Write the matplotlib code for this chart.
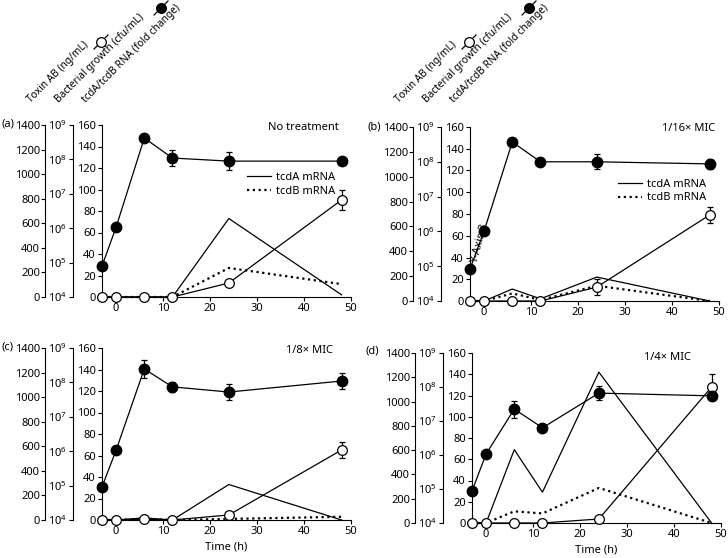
import matplotlib
matplotlib.use("Agg")
import matplotlib.pyplot as plt
from matplotlib.lines import Line2D

plt.rcParams['font.family'] = ['Noto Sans', 'DejaVu Sans']
plt.rcParams['mathtext.fontset'] = 'custom'
plt.rcParams['mathtext.rm'] = 'Noto Sans'
plt.rcParams['mathtext.default'] = 'regular'
plt.rcParams['font.size'] = 8

# sampling times (h)
time_h = [-3, 0, 6, 12, 24, 48]

panel_labels = ['(a)', '(b)', '(c)', '(d)']
panel_titles = ['No treatment', '1/16\u00d7 MIC', '1/8\u00d7 MIC', '1/4\u00d7 MIC']

# bacterial growth, log10 cfu/mL
growth_log = [
    [4.90, 6.03, 8.62, 8.04, 7.95, 7.95],
    [4.92, 6.01, 8.57, 8.00, 8.00, 7.94],
    [4.96, 6.03, 8.39, 7.87, 7.72, 8.04],
    [4.94, 6.03, 7.35, 6.80, 7.82, 7.74],
]
growth_err = [
    [0, 0, 0, 0.22, 0.26, 0],
    [0, 0, 0.10, 0.12, 0.22, 0.15],
    [0, 0, 0.25, 0.15, 0.23, 0.23],
    [0, 0, 0.25, 0.05, 0.20, 0.10],
]

# toxin AB, ng/mL
toxin = [
    [0, 0, 0, 0, 114, 790],
    [0, 0, 0, 0, 112, 692],
    [0, 0, 5, 0, 41, 570],
    [0, 0, 0, 0, 33, 1120],
]
toxin_err = [
    [0, 0, 0, 0, 0, 82],
    [0, 0, 0, 0, 64, 64],
    [0, 0, 0, 0, 0, 65],
    [0, 0, 0, 0, 0, 107],
]

# RNA fold change
tcda = [
    [0, 0, 0, 0, 73, 2],
    [0, 0, 11, 2, 22, 0],
    [0, 0, 2, 0, 33, 0],
    [0, 0, 69, 29, 142, 0],
]
tcdb = [
    [0, 0, 0, 0, 27, 12],
    [0, 0, 7, 1, 14, 0],
    [0, 0, 1, 0, 1, 3],
    [0, 0, 11, 9, 33, 0],
]

W, H = 728, 558
fig = plt.figure(figsize=(W / 100, H / 100), dpi=100)

# plot boxes in pixels: left, top, right, bottom
boxes = [(102, 125, 351, 297), (470, 127, 719, 301),
         (102, 348, 351, 520), (472, 353, 721, 523)]
title_pos = [(0.952, 0.985), (0.984, 0.99), (0.928, 0.985), (0.88, 0.975)]


def style_axis(a, side_offset=None):
    for s in ['top', 'right', 'bottom']:
        a.spines[s].set_visible(False)
    a.spines['left'].set_visible(True)
    a.spines['left'].set_linewidth(0.8)
    if side_offset is not None:
        a.spines['left'].set_position(('axes', side_offset))
    a.yaxis.set_ticks_position('left')
    a.yaxis.set_label_position('left')
    a.tick_params(axis='y', direction='out', length=3, width=0.8, pad=1, labelsize=8)


for i in range(4):
    l, t, r, b = boxes[i]
    ax = fig.add_axes([l / W, (H - b) / H, (r - l) / W, (b - t) / H])
    ax.spines['top'].set_visible(False)
    ax.spines['right'].set_visible(False)
    ax.spines['bottom'].set_linewidth(0.8)
    ax.spines['left'].set_linewidth(0.8)
    ax.set_xlim(-3, 50)
    ax.set_ylim(0, 160)
    ax.set_xticks([0, 10, 20, 30, 40, 50])
    ax.set_yticks(range(0, 161, 20))
    ax.tick_params(direction='out', length=3, width=0.8, pad=1.5, labelsize=8)

    ax.plot(time_h, tcda[i], color='black', lw=0.9, label='tcdA mRNA', clip_on=False)
    ax.plot(time_h, tcdb[i], color='black', lw=1.6, ls=(0, (1, 1.6)), label='tcdB mRNA', clip_on=False)

    tox = ax.twinx()
    style_axis(tox, -0.227)
    tox.set_ylim(0, 1400)
    tox.set_yticks(range(0, 1401, 200))
    tox.errorbar(time_h, toxin[i], yerr=toxin_err[i], color='black', lw=0.9,
                 marker='o', ms=7, mfc='white', mec='black', mew=0.9,
                 capsize=2.5, elinewidth=0.9, capthick=0.9, clip_on=False, zorder=3)

    bac = ax.twinx()
    style_axis(bac, -0.118)
    bac.set_ylim(4, 9)
    bac.set_yticks(range(4, 10))
    bac.set_yticklabels(['$10^{%d}$' % k for k in range(4, 10)])
    bac.errorbar(time_h, growth_log[i], yerr=growth_err[i], color='black', lw=0.9,
                 marker='o', ms=7.5, mfc='black', mec='black',
                 capsize=2.5, elinewidth=0.9, capthick=0.9, clip_on=False, zorder=4)

    ax.text(title_pos[i][0], title_pos[i][1], panel_titles[i], transform=ax.transAxes,
            ha='right', va='center', fontsize=8)

    if i < 2:
        anchors = [(0.582, 0.654), (0.594, 0.632)]
        ax.legend(loc='center left', bbox_to_anchor=anchors[i], frameon=False,
                  borderpad=0, borderaxespad=0, handlelength=2.2, handletextpad=0.4,
                  labelspacing=0.25, fontsize=8)
    if i >= 2:
        ax.set_xlabel('Time (h)', fontsize=8, labelpad=3)

# panel letters
letter_pos = [(1, 124), (367, 127), (1, 347), (366, 351)]
for i in range(4):
    fig.text(letter_pos[i][0] / W, (H - letter_pos[i][1]) / H, panel_labels[i],
             ha='left', va='center', fontsize=8)

# stray axis label in panel (b)
fig.text(480 / W, (H - 244) / H, 'Y-Axis 3', rotation=75, ha='center', va='center', fontsize=8)

# rotated axis captions above the left-hand panels
for dx in [0, 368]:
    fig.text((31 + dx) / W, (H - 103) / H, 'Toxin AB (ng/mL)', rotation=45,
             rotation_mode='anchor', ha='left', va='baseline', fontsize=7.3)
    fig.text((59 + dx) / W, (H - 103) / H, 'Bacterial growth (cfu/mL)', rotation=45,
             rotation_mode='anchor', ha='left', va='baseline', fontsize=7.3)
    fig.text((86 + dx) / W, (H - 103) / H, 'tcdA/tcdB RNA (fold change)', rotation=45,
             rotation_mode='anchor', ha='left', va='baseline', fontsize=7.3)
    for (cx, cy, fc) in [(101, 42, 'white'), (161, 8, 'black')]:
        x0, y0 = cx + dx - 7, cy + 7
        x1, y1 = cx + dx + 7, cy - 7
        fig.add_artist(Line2D([x0 / W, x1 / W], [(H - y0) / H, (H - y1) / H],
                              color='black', lw=0.9, transform=fig.transFigure))
        fig.add_artist(Line2D([(cx + dx) / W], [(H - cy) / H], marker='o', ms=7,
                              mfc=fc, mec='black', mew=0.9, transform=fig.transFigure))

fig.savefig('out.png', dpi=100)
